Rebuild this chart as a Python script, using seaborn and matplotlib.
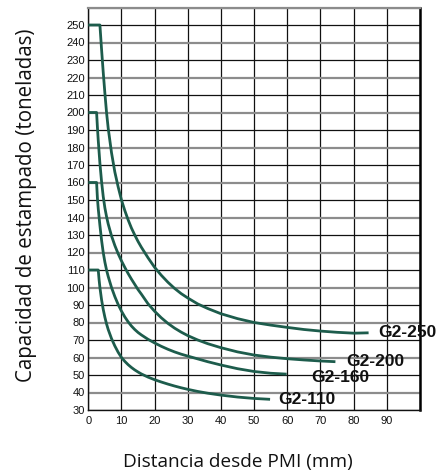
import matplotlib
matplotlib.use("Agg")
import matplotlib.pyplot as plt
import pandas as pd
import seaborn as sns

# ---------------- data ----------------
models = ["G2-250", "G2-200", "G2-160", "G2-110"]

dist_250 = [0, 3.5, 4, 4.5, 5, 5.5, 6, 7, 8, 9, 10, 11, 12, 13, 14, 15, 16, 18, 20,
            22, 24, 26, 28, 30, 33, 36, 40, 45, 50, 55, 60, 65, 70, 75, 80, 84.5]
cap_250 = [250, 250, 236, 223, 211, 200, 191, 177, 166, 157.5, 150, 144, 138.7, 134,
           130, 126.3, 123, 117, 111.5, 107, 103, 99.5, 96.5, 94, 90.6, 88, 85, 82.2,
           80, 78.5, 77.2, 76, 75.1, 74.4, 73.9, 74.1]

dist_200 = [0, 2.5, 2.75, 3, 3.5, 4, 4.5, 5, 5.5, 6, 7, 8, 9, 10, 11, 12, 13, 14, 15,
            16, 18, 20, 22, 24, 26, 28, 30, 33, 36, 40, 45, 50, 55, 60, 65, 70, 74.5]
cap_200 = [200, 200, 191.5, 184, 171, 160.5, 152, 145.5, 140.5, 136.3, 129.5, 124,
           119.3, 115.2, 111.5, 108, 104.8, 101.8, 98.8, 96.2, 90.7, 86.4, 82.7, 79.5,
           76.8, 74.5, 72.5, 70, 67.9, 65.6, 63.2, 61.4, 60.2, 59.3, 58.6, 58, 57.6]

dist_160 = [0, 2.5, 2.75, 3, 3.5, 4, 4.5, 5, 5.5, 6, 7, 8, 9, 10, 11, 12, 13, 14, 15,
            16, 18, 20, 22, 24, 26, 28, 30, 33, 36, 40, 45, 50, 55, 59.8]
cap_160 = [160, 160, 151, 145, 135.5, 127, 120, 114.5, 110, 106.3, 100, 94.8, 90.3,
           86.5, 83.2, 80.4, 78, 76, 74.3, 72.9, 70.4, 68.3, 66.4, 64.7, 63.2, 61.9,
           60.8, 59.2, 57.6, 55.7, 53.6, 52, 51, 50.5]

dist_110 = [0, 3, 3.25, 3.5, 4, 4.5, 5, 5.5, 6, 7, 8, 9, 10, 11, 12, 13, 14, 15, 16,
            18, 20, 22, 24, 26, 28, 30, 33, 36, 40, 45, 50, 54.8]
cap_110 = [110, 110, 104.5, 100, 93, 87.5, 83, 79.2, 76, 70.8, 66.6, 63, 60, 57.8,
           55.9, 54.3, 52.9, 51.7, 50.6, 48.8, 47.3, 46, 44.8, 43.7, 42.7, 41.8, 40.6,
           39.6, 38.5, 37.4, 36.6, 36.1]

x_ticks = list(range(0, 101, 10))
x_labels = [str(v) for v in range(0, 91, 10)] + [""]
y_ticks = list(range(30, 261, 10))
y_labels = [str(v) for v in range(30, 251, 10)] + [""]

x_title = "Distancia desde PMI (mm)"
y_title = "Capacidad de estampado (toneladas)"

# ---------------- build long table ----------------
series = {
    "G2-250": (dist_250, cap_250),
    "G2-200": (dist_200, cap_200),
    "G2-160": (dist_160, cap_160),
    "G2-110": (dist_110, cap_110),
}
rows = []
for m in models:
    xs, ys = series[m]
    for i, (xv, yv) in enumerate(zip(xs, ys)):
        rows.append({"model": m, "idx": i, "dist": xv, "cap": yv})
df = pd.DataFrame(rows)

# ---------------- style ----------------
sns.set_style("white")
plt.rcParams["font.family"] = ["Liberation Sans", "DejaVu Sans"]

line_color = "#1d5c4c"

fig = plt.figure(figsize=(4.46, 4.75), dpi=100)
ax = fig.add_axes([88.3 / 446, 1 - 410 / 475, (420 - 88.3) / 446, (410 - 7.5) / 475])

sns.lineplot(data=df, x="dist", y="cap", hue="model", units="model",
             estimator=None, sort=False, palette=[line_color] * 4,
             hue_order=models, linewidth=2.0, legend=False, ax=ax, zorder=5)
for ln in ax.lines:
    ln.set_solid_capstyle("butt")
    ln.set_solid_joinstyle("round")

ax.set_xlim(0, 100)
ax.set_ylim(30, 260)
ax.set_xticks(x_ticks)
ax.set_xticklabels(x_labels)
ax.set_yticks(y_ticks)
ax.set_yticklabels(y_labels)
ax.tick_params(axis="both", length=0, labelsize=8, colors="#111111")
ax.tick_params(axis="x", pad=4)
ax.tick_params(axis="y", pad=2.5)

ax.grid(True, axis="x", color="#111111", linewidth=0.9)
ax.grid(True, axis="y")
for tv, gl in zip(y_ticks, ax.get_ygridlines()):
    if tv % 20 == 0:
        gl.set_color("#8c8c8c")
        gl.set_linewidth(1.6)
    else:
        gl.set_color("#111111")
        gl.set_linewidth(0.9)
ax.set_axisbelow(True)

for side in ["left", "bottom"]:
    ax.spines[side].set_color("#111111")
    ax.spines[side].set_linewidth(1.0)
ax.spines["top"].set_color("#8c8c8c")
ax.spines["top"].set_linewidth(1.6)
ax.spines["right"].set_color("#000000")
ax.spines["right"].set_linewidth(1.8)

# curve labels next to line ends
label_offsets = {"G2-250": (2.8, 0.3), "G2-200": (3.2, 0.4),
                 "G2-160": (7.5, -2.1), "G2-110": (2.5, 0.0)}
for m in models:
    xs, ys = series[m]
    dx, dy = label_offsets[m]
    ax.text(xs[-1] + dx, ys[-1] + dy, m, ha="left", va="center",
            fontsize=12.5, fontweight="bold", color="#111111", zorder=6,
            family=["Liberation Sans", "DejaVu Sans"])

ax.set_xlabel(x_title, fontsize=13.7, family=["Open Sans", "DejaVu Sans"], color="#111111")
ax.set_ylabel(y_title, fontsize=14.8, family=["Open Sans", "DejaVu Sans"], color="#111111")
ax.xaxis.set_label_coords((238 - 88.3) / 331.7, (410 - 462) / 402.5)
ax.xaxis.label.set_va("center")
ax.yaxis.set_label_coords((27 - 88.3) / 331.7, (410 - 205) / 402.5)
ax.yaxis.label.set_va("center")

fig.savefig("out.png", dpi=100)
